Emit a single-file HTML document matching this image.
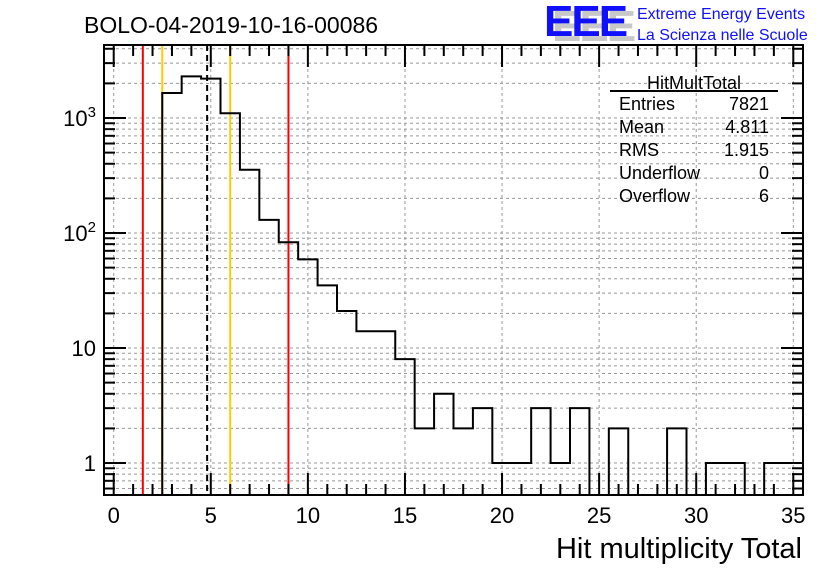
<!DOCTYPE html>
<html><head><meta charset="utf-8"><style>
body{margin:0;background:#fff;width:836px;height:572px;overflow:hidden;font-family:"Liberation Sans",sans-serif}
svg text{font-family:"Liberation Sans",sans-serif}
</style></head><body>
<svg id="c" width="836" height="572">
<text x="84" y="33" font-size="23">BOLO-04-2019-10-16-00086</text>
<g>
<text x="552" y="41" font-size="44" font-weight="bold" fill="#c8c8c8" letter-spacing="-2">EEE</text>
<text x="544" y="36" font-size="44" font-weight="bold" fill="#1010ff" letter-spacing="-2">EEE</text>
<text x="637" y="19" font-size="16" fill="#1010ff">Extreme Energy Events</text>
<text x="637" y="40" font-size="16" fill="#1010ff">La Scienza nelle Scuole</text>
</g>
<g id="grid"></g><g id="refl"></g><g id="hist"></g><g id="axes"></g>
<g font-size="18">
<text x="694" y="89" text-anchor="middle">HitMultTotal</text>
<line x1="610" y1="91" x2="778" y2="91" stroke="#000" stroke-width="2"/>
<text x="619" y="110">Entries</text><text x="769" y="110" text-anchor="end">7821</text>
<text x="619" y="133">Mean</text><text x="769" y="133" text-anchor="end">4.811</text>
<text x="619" y="156">RMS</text><text x="769" y="156" text-anchor="end">1.915</text>
<text x="619" y="179">Underflow</text><text x="769" y="179" text-anchor="end">0</text>
<text x="619" y="202">Overflow</text><text x="769" y="202" text-anchor="end">6</text>
</g>
<text x="802" y="558" font-size="29" text-anchor="end">Hit multiplicity Total</text>
</svg>
<script>
const binCenters=[3,4,5,6,7,8,9,10,11,12,13,14,15,16,17,18,19,20,21,22,23,24,25,26,27,28,29,30,31,32,33,34,35];
const binCounts=[1650,2300,2200,1100,355,130,83,59,35,21,14,14,8,2,4,2,3,1,1,3,1,3,0,2,0,0,2,0,1,1,0,1,1];
const xTicks=[0,5,10,15,20,25,30,35];
const yTicks=[1,10,100,1000];
const yTickLabels=["1","10","10²","10³"];
const refRed=[1.5,9.0];
const refOrange=[2.5,6.0];
const meanVal=4.811;
const L=104,R=803,T=45,B=495,X0=-0.5,X1=35.5,YL=Math.log10(0.527);
const sx=v=>L+(v-X0)/(X1-X0)*(R-L);
const yTopLog=3+(118-45)/115;
const sy=v=>B-(Math.log10(v)-YL)/(yTopLog-YL)*(B-T);
const NS='http://www.w3.org/2000/svg';
function mk(p,t,a){const e=document.createElementNS(NS,t);for(const k in a)e.setAttribute(k,a[k]);document.getElementById(p).appendChild(e);return e;}
xTicks.forEach(t=>{const e=mk('grid','line',{x1:sx(t),x2:sx(t),y1:T,y2:B,stroke:'#999','stroke-dasharray':'3,3'});

});
for(let d=-1;d<=3;d++)for(let m=1;m<=9;m++){const v=m*Math.pow(10,d);const y=sy(v);if(y<T||y>B)continue;
const e=mk('grid','line',{x1:L,x2:R,y1:y,y2:y,stroke:'#999','stroke-dasharray':'3,3'});


const tl=m===1?22:11;
const a=mk('axes','line',{x1:L,x2:L+tl,y1:y,y2:y,stroke:'#000','stroke-width':2});


const b=mk('axes','line',{x1:R,x2:R-tl,y1:y,y2:y,stroke:'#000','stroke-width':2});

}
refRed.forEach(v=>{const e=mk('refl','line',{x1:sx(v),x2:sx(v),y1:T,y2:B,stroke:'#ff0000','stroke-width':2});

});
refOrange.forEach(v=>{const e=mk('refl','line',{x1:sx(v),x2:sx(v),y1:T,y2:B,stroke:'#ffcc00','stroke-width':2});

});
let d='';const floorY=B;
binCenters.forEach((c,i)=>{const v=binCounts[i];const y=v>0?Math.max(T,sy(v)):floorY;const x0=sx(c-0.5),x1=sx(c+0.5);
d+=(i===0?`M${x0},${floorY}`:'')+`L${x0},${y}L${x1},${y}`;});
const h=mk('hist','path',{d:d,fill:'none',stroke:'#000','stroke-width':2});


const m=mk('hist','line',{x1:sx(meanVal),x2:sx(meanVal),y1:T,y2:B,stroke:'#000','stroke-width':2,'stroke-dasharray':'6,4'});


const f=mk('axes','rect',{x:L,y:T,width:R-L,height:B-T,fill:'none',stroke:'#000','stroke-width':2});


for(let u=0;u<=35;u++){const big=u%5===0;const x=sx(u);const tl=big?22:11;
const a=mk('axes','line',{x1:x,x2:x,y1:B,y2:B-tl,stroke:'#000','stroke-width':2});


const b=mk('axes','line',{x1:x,x2:x,y1:T,y2:T+tl,stroke:'#000','stroke-width':2});

}
xTicks.forEach(t=>{const e=mk('axes','text',{x:sx(t),y:523,'font-size':22,'text-anchor':'middle'});e.textContent=t;

});
yTicks.forEach((t,i)=>{const e=mk('axes','text',{x:96,y:sy(t)+8,'font-size':22,'text-anchor':'end'});
if(i>=2){e.innerHTML='10<tspan dy="-9" font-size="15">'+(i)+'</tspan>';}else e.textContent=yTickLabels[i];

});
</script>
</body></html>
